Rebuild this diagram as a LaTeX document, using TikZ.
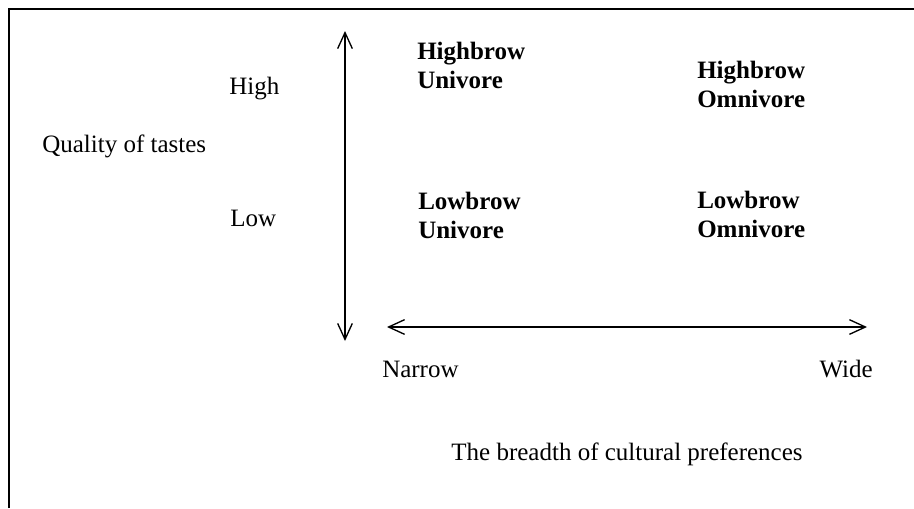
\documentclass[tikz,border=0pt]{standalone}
\usepackage{fontspec}
\setmainfont{Liberation Serif}[BoldFont={Liberation Serif Bold}]
\usetikzlibrary{arrows.meta, positioning}
\tikzset{
    txt/.style={inner sep=0pt, font=\fontsize{18.75}{21.75}\selectfont, align=left, anchor=west},
    cell/.style={txt, font=\fontsize{18.75}{21.75}\selectfont\bfseries},
    axis/.style={{Straight Barb[length=12pt,width=11pt]}-{Straight Barb[length=12pt,width=11pt]}, line width=1pt},
    frame/.style={line width=1.5pt}
}
\begin{document}
\begin{tikzpicture} [x=0.75pt, y=-0.75pt]
    \useasboundingbox (0,0) rectangle (914,508);

    % Frame
    \draw[frame] (9,508) -- (9,9) -- (914,9);

    % Axis end points
    \coordinate (qual_top) at (345,31);
    \coordinate (qual_bottom) at (345,341);
    \coordinate (breadth_left) at (387,327);
    \coordinate (breadth_right) at (867,327);

    % Vertical axis labels
    \node[txt] (quality) at (42,146) {Quality of tastes};
    \node[txt] (high) at (229,89) {High};
    \node[txt] (low) at (230,218) {Low};

    % Quadrants
    \node[cell] (high_uni) at (417,65.5) {Highbrow\\Univore};
    \node[cell] (high_omni) at (697,84.5) {Highbrow\\Omnivore};
    \node[cell] (low_uni) at (418,215.5) {Lowbrow\\Univore};
    \node[cell] (low_omni) at (697,214) {Lowbrow\\Omnivore};

    % Horizontal axis labels
    \node[txt] (narrow) at (382,369) {Narrow};
    \node[txt, anchor=east] (wide) at (873,369) {Wide};
    \node[txt, anchor=center] (breadth) at (627,454) {The breadth of cultural preferences};

    % Axes
    \draw[axis] (qual_bottom) -- (qual_top);
    \draw[axis] (breadth_left) -- (breadth_right);
\end{tikzpicture}
\end{document}
